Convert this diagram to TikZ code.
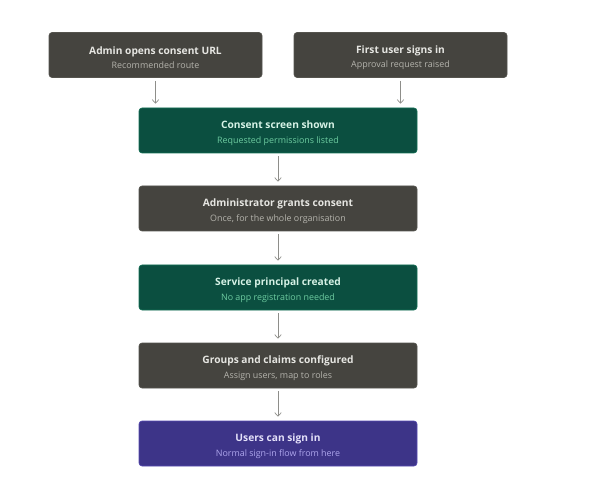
\documentclass[tikz,border=0pt]{standalone}
\usepackage{fontspec}
\setmainfont{Open Sans}
\usetikzlibrary{arrows.meta}
\definecolor{greybox}{HTML}{45443F}
\definecolor{greyborder}{HTML}{55544E}
\definecolor{greenbox}{HTML}{0B4F40}
\definecolor{greenborder}{HTML}{137055}
\definecolor{purplebox}{HTML}{3D3488}
\definecolor{purpleborder}{HTML}{5648B0}
\definecolor{titlegrey}{HTML}{E6E6E2}
\definecolor{subgrey}{HTML}{B4B3AC}
\definecolor{titlegreen}{HTML}{D6F2E6}
\definecolor{subgreen}{HTML}{6DCBA0}
\definecolor{titlepurple}{HTML}{E4E1FA}
\definecolor{subpurple}{HTML}{ADA5EC}
\definecolor{arrowgrey}{HTML}{8E8E8A}
\tikzset{
  box/.style={rounded corners=3pt, line width=0.6pt, minimum height=45pt, align=center, inner sep=0pt},
  greyb/.style={box, fill=greybox, draw=greyborder},
  greenb/.style={box, fill=greenbox, draw=greenborder},
  purpleb/.style={box, fill=purplebox, draw=purpleborder},
  conn/.style={draw=arrowgrey, line width=0.7pt, -{Straight Barb[length=3.5pt,width=6.5pt]}},
}
\newcommand{\ttl}[2]{{\rule{0pt}{13.5pt}\fontsize{10.2pt}{12pt}\selectfont\bfseries\color{#1}#2}}
\newcommand{\sbt}[2]{{\fontsize{8.9pt}{10pt}\selectfont\color{#1}#2}}
\begin{document}
\begin{tikzpicture}[x=1pt,y=-1pt]
\useasboundingbox (0,0) rectangle (602,486);
\node[greyb, minimum width=213pt] (a) at (155.5,55) {\ttl{titlegrey}{Admin opens consent URL}\\[2.5pt]\sbt{subgrey}{Recommended route}};
\node[greyb, minimum width=213pt] (b) at (400.5,55) {\ttl{titlegrey}{First user signs in}\\[2.5pt]\sbt{subgrey}{Approval request raised}};
\node[greenb, minimum width=278pt] (c) at (278,130.5) {\ttl{titlegreen}{Consent screen shown}\\[2.5pt]\sbt{subgreen}{Requested permissions listed}};
\node[greyb, minimum width=278pt] (d) at (278,208.5) {\ttl{titlegrey}{Administrator grants consent}\\[2.5pt]\sbt{subgrey}{Once, for the whole organisation}};
\node[greenb, minimum width=278pt] (e) at (278,287.5) {\ttl{titlegreen}{Service principal created}\\[2.5pt]\sbt{subgreen}{No app registration needed}};
\node[greyb, minimum width=278pt] (f) at (278,365.5) {\ttl{titlegrey}{Groups and claims configured}\\[2.5pt]\sbt{subgrey}{Assign users, map to roles}};
\node[purpleb, minimum width=278pt] (g) at (278,443.5) {\ttl{titlepurple}{Users can sign in}\\[2.5pt]\sbt{subpurple}{Normal sign-in flow from here}};
\draw[conn] ([yshift=-3pt]a.south) -- ([yshift=4pt]a.south |- c.north);
\draw[conn] ([yshift=-3pt]b.south) -- ([yshift=4pt]b.south |- c.north);
\draw[conn] ([yshift=-3pt]c.south) -- ([yshift=4pt]d.north);
\draw[conn] ([yshift=-3pt]d.south) -- ([yshift=4pt]e.north);
\draw[conn] ([yshift=-3pt]e.south) -- ([yshift=4pt]f.north);
\draw[conn] ([yshift=-3pt]f.south) -- ([yshift=4pt]g.north);
\end{tikzpicture}
\end{document}
